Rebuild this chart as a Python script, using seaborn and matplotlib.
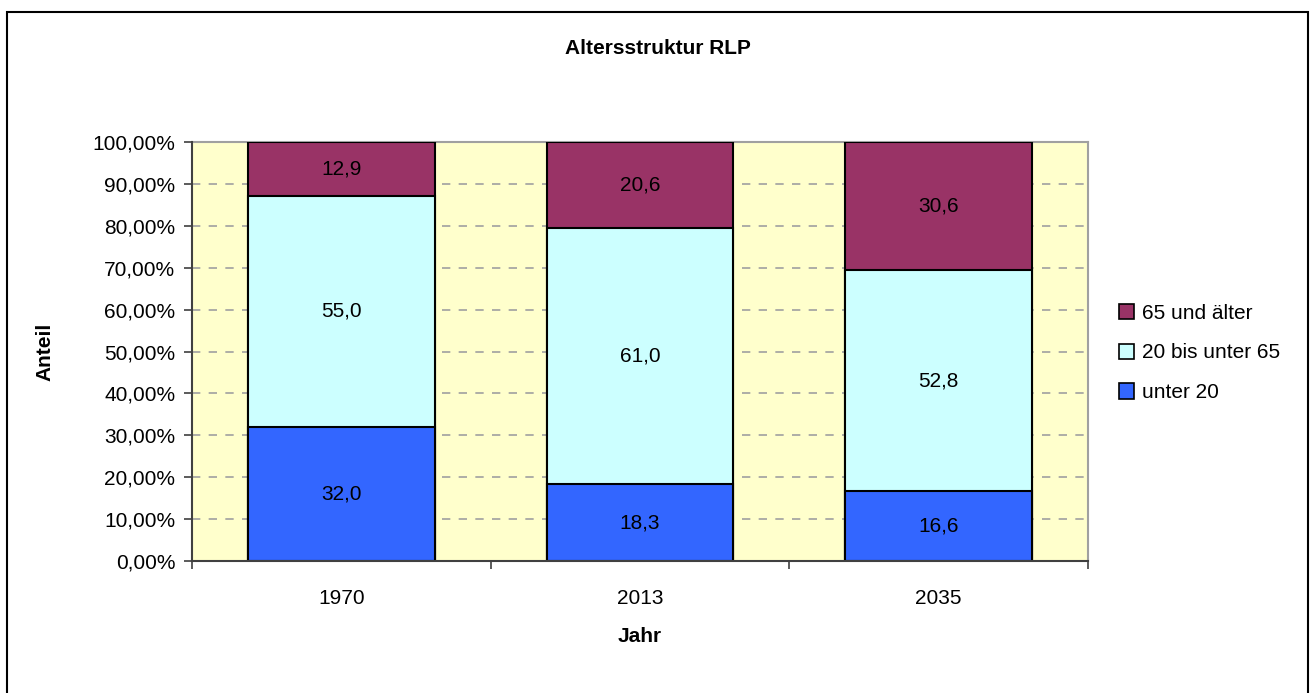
#!/usr/bin/env python3
import matplotlib
matplotlib.use("Agg")
import matplotlib.pyplot as plt
import pandas as pd
import seaborn as sns
from matplotlib.patches import Patch, Rectangle
from matplotlib.ticker import FixedLocator

years = ["1970", "2013", "2035"]
unter_20 = [32.0, 18.3, 16.6]
bis_65 = [55.0, 61.0, 52.8]
ab_65 = [12.9, 20.6, 30.6]
groups = ["unter 20", "20 bis unter 65", "65 und älter"]
colors = ["#3366FF", "#CCFFFF", "#993366"]

df = pd.DataFrame({"Jahr": years, "u20": unter_20, "m": bis_65, "o65": ab_65})
total = df[["u20", "m", "o65"]].sum(axis=1)
df["s_u20"] = df["u20"] / total * 100
df["s_m"] = df["m"] / total * 100
df["s_o65"] = df["o65"] / total * 100
df["c1"] = df["s_u20"]
df["c2"] = df["s_u20"] + df["s_m"]
df["c3"] = df["c2"] + df["s_o65"]

sns.set_theme(style="white")
plt.rcParams["font.family"] = ["Liberation Sans", "DejaVu Sans"]
plt.rcParams["text.color"] = "black"
plt.rcParams["xtick.color"] = "black"
plt.rcParams["ytick.color"] = "black"

fig = plt.figure(figsize=(13.1, 6.93), dpi=100)
ax = fig.add_axes([192 / 1310, 1 - 561 / 693, (1088 - 192) / 1310, (561 - 142) / 693])
ax.set_facecolor("#FFFFCC")

# stacked bars: draw cumulative totals from top down
for col, color in zip(["c3", "c2", "c1"], colors[::-1]):
    sns.barplot(data=df, x="Jahr", y=col, color=color, width=0.626,
                edgecolor="black", linewidth=1.5, saturation=1, ax=ax, zorder=3)

fs = 15
for i in range(len(years)):
    lower = 0
    for val, share in zip([unter_20[i], bis_65[i], ab_65[i]],
                          [df["s_u20"][i], df["s_m"][i], df["s_o65"][i]]):
        ax.text(i, lower + share / 2, f"{val:.1f}".replace(".", ","),
                ha="center", va="center", fontsize=fs, zorder=4)
        lower += share

ax.set_xlim(-0.5, 2.5)
ax.set_ylim(0, 100)
ax.set_yticks(range(0, 101, 10))
ax.set_yticklabels([f"{v},00%" for v in range(0, 101, 10)], fontsize=fs)
for v in range(10, 100, 10):
    ax.axhline(v, color="#A0A0A0", linestyle=(0, (5, 5)), linewidth=1.2, zorder=1)

ax.tick_params(axis="x", which="major", length=0, pad=20, labelsize=fs)
ax.xaxis.set_minor_locator(FixedLocator([-0.5, 0.5, 1.5, 2.5]))
ax.tick_params(axis="x", which="minor", bottom=True, length=6, width=1.2, color="#404040")
ax.tick_params(axis="y", left=True, length=6, width=1.2, color="#404040", labelcolor="black", pad=6)
ax.set_xlabel("")
ax.set_ylabel("")

for side in ["left", "bottom"]:
    ax.spines[side].set_color("#404040")
    ax.spines[side].set_linewidth(1.5)
for side in ["top", "right"]:
    ax.spines[side].set_color("#A0A0A0")
    ax.spines[side].set_linewidth(1.5)
ax.spines["left"].set_zorder(5)
ax.spines["bottom"].set_zorder(5)

fig.text(658 / 1310, 1 - 48 / 693, "Altersstruktur RLP", ha="center", va="center",
         fontsize=fs, fontweight="bold")
fig.text(45 / 1310, 1 - 352 / 693, "Anteil", ha="center", va="center",
         rotation=90, fontsize=fs, fontweight="bold")
fig.text(640 / 1310, 1 - 636 / 693, "Jahr", ha="center", va="center",
         fontsize=fs, fontweight="bold")

handles = [Patch(facecolor=c, edgecolor="black", linewidth=1.2, label=g)
           for g, c in zip(groups[::-1], colors[::-1])]
fig.legend(handles=handles, loc="center left", bbox_to_anchor=(1100 / 1310, 1 - 353 / 693),
           frameon=False, fontsize=fs, handlelength=0.75, handleheight=0.75,
           handletextpad=0.35, labelspacing=1.0)

fig.patches.append(Rectangle((7 / 1310, -0.05), (1308 - 7) / 1310, 1.05 - 12 / 693,
                             transform=fig.transFigure, fill=False,
                             edgecolor="black", linewidth=1.5))

fig.savefig("out.png", dpi=100)
